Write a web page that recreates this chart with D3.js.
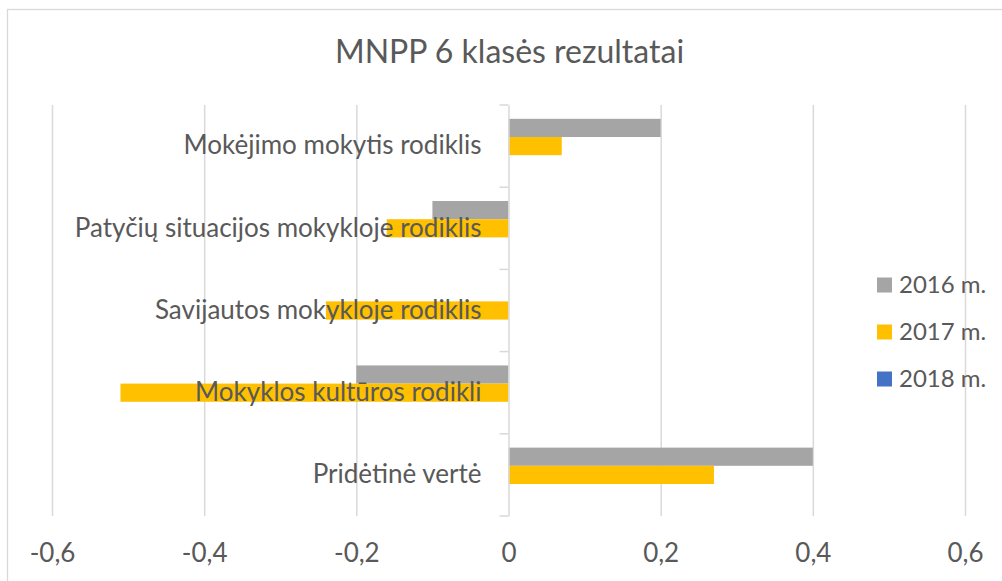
<!DOCTYPE html>
<html>
<head>
<meta charset="utf-8">
<script src="https://cdn.jsdelivr.net/npm/d3@7"></script>
<style>
  html, body { margin: 0; padding: 0; background: #fff; }
  svg { display: block; font-family: Lato, "Open Sans", sans-serif; }
</style>
</head>
<body>
<svg id="chart" width="1002" height="581"></svg>
<script>
const title = "MNPP 6 klasės rezultatai";
const categories = [
  "Mokėjimo mokytis rodiklis",
  "Patyčių situacijos mokykloje rodiklis",
  "Savijautos mokykloje rodiklis",
  "Mokyklos kultūros rodikli",
  "Pridėtinė vertė"
];
const seriesNames = ["2016 m.", "2017 m.", "2018 m."];
const values2016 = [0.2, -0.1, 0, -0.2, 0.4];
const values2017 = [0.07, -0.16, -0.24, -0.51, 0.27];
const values2018 = [0, 0, 0, 0, 0];
const seriesColors = ["#A5A5A5", "#FFC000", "#4472C4"];
const xTicks = [-0.6, -0.4, -0.2, 0, 0.2, 0.4, 0.6];
const xTickLabels = ["-0,6", "-0,4", "-0,2", "0", "0,2", "0,4", "0,6"];

const seriesValues = [values2016, values2017, values2018];
const svg = d3.select("#chart");
const textColor = "#595959";
const gridColor = "#D9D9D9";

// chart border
svg.append("rect")
  .attr("x", 7.5).attr("y", 9.5)
  .attr("width", 1010).attr("height", 600)
  .attr("fill", "none").attr("stroke", gridColor).attr("stroke-width", 1.3);

const plot = { left: 52, right: 965, top: 105, bottom: 516 };

const x = d3.scaleLinear().domain([-0.6, 0.6]).range([plot.left, plot.right]);
const y = d3.scaleBand().domain(categories).range([plot.top, plot.bottom]).padding(0);
const ySub = d3.scaleBand().domain(seriesNames).range([0, y.bandwidth()])
  .paddingInner(0).paddingOuter(0.76);

// title
svg.append("text")
  .attr("x", 509.5).attr("y", 63)
  .attr("text-anchor", "middle")
  .attr("fill", textColor)
  .attr("font-size", 32)
  .text(title);

// vertical gridlines
const xAxisG = svg.append("g")
  .attr("transform", `translate(0,${plot.bottom})`)
  .call(d3.axisBottom(x).tickValues(xTicks)
    .tickSize(-(plot.bottom - plot.top))
    .tickFormat((d, i) => xTickLabels[i]));
xAxisG.select(".domain").remove();
xAxisG.selectAll(".tick line").attr("stroke", gridColor).attr("stroke-width", 1.5)
  .filter(d => d === 0).remove();
xAxisG.selectAll(".tick text")
  .attr("fill", textColor)
  .attr("font-size", 26)
  .attr("font-family", "Lato, 'Open Sans', sans-serif")
  .attr("y", 46)
  .attr("dy", 0);

// bars
const groups = svg.append("g").selectAll("g")
  .data(categories)
  .join("g")
  .attr("transform", d => `translate(0,${y(d)})`);

groups.selectAll("rect")
  .data((c, i) => seriesNames.map((s, j) => ({ s, v: seriesValues[j][i], color: seriesColors[j] })))
  .join("rect")
  .attr("x", d => x(Math.min(0, d.v)))
  .attr("width", d => Math.abs(x(d.v) - x(0)))
  .attr("y", d => ySub(d.s))
  .attr("height", ySub.bandwidth())
  .attr("fill", d => d.color);

// vertical category axis at zero
const yAxisG = svg.append("g")
  .attr("transform", `translate(${x(0)},0)`)
  .call(d3.axisLeft(y).tickSize(0).tickPadding(27));
yAxisG.select(".domain").attr("stroke", gridColor).attr("stroke-width", 1.5);
yAxisG.selectAll(".tick text")
  .attr("fill", textColor)
  .attr("font-size", 26)
  .attr("font-family", "Lato, 'Open Sans', sans-serif");

// category separator tick marks
const sepPositions = categories.map(c => y(c)).concat([plot.bottom]);
svg.append("g").selectAll("line")
  .data(sepPositions)
  .join("line")
  .attr("x1", x(0) - 9).attr("x2", x(0))
  .attr("y1", d => d).attr("y2", d => d)
  .attr("stroke", gridColor).attr("stroke-width", 1.5);

// legend
const legend = svg.append("g").selectAll("g")
  .data(seriesNames)
  .join("g")
  .attr("transform", (d, i) => `translate(877,${285 + i * 47})`);
legend.append("rect")
  .attr("x", 0).attr("y", -7.5)
  .attr("width", 15).attr("height", 15)
  .attr("fill", (d, i) => seriesColors[i]);
legend.append("text")
  .attr("x", 22).attr("y", 0)
  .attr("dy", "0.35em")
  .attr("fill", textColor)
  .attr("font-size", 24)
  .text(d => d);
</script>
</body>
</html>
